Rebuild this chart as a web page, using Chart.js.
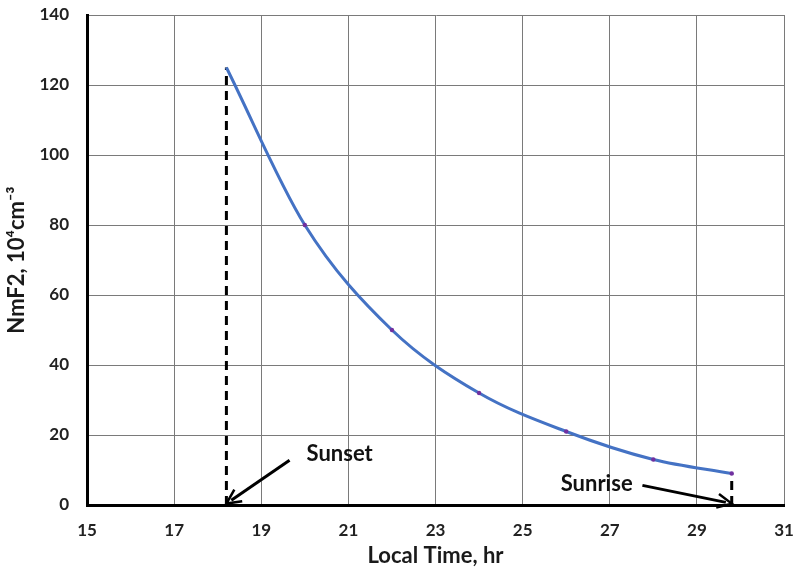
<!DOCTYPE html>
<html>
<head>
<meta charset="utf-8">
<script src="https://cdn.jsdelivr.net/npm/chart.js@4/dist/chart.umd.min.js"></script>
<style>
  html, body { margin: 0; padding: 0; background: #fff; }
  #wrap { width: 793px; height: 573px; }
</style>
</head>
<body>
<div id="wrap"><canvas id="nmf2Chart"></canvas></div>
<script>
// local time (hr) and NmF2 (10^4 cm^-3)
const localTime = [18.2, 20, 22, 24, 26, 28, 29.8];
const nmf2 = [125, 80, 50, 32, 21, 13, 9];
const xTicks = [15, 17, 19, 21, 23, 25, 27, 29, 31];
const yTicks = [0, 20, 40, 60, 80, 100, 120, 140];

// dashed markers at sunset / sunrise
const sunsetX = 18.2, sunsetTop = 125;
const sunriseX = 29.8, sunriseTop = 9;

// annotation labels and arrows
const notes = [
    { text: 'Sunset', tx: 20.8, ty: 14.5, fx: 19.65, fy: 12.8, ex: 18.2, ey: 0.4 },
    { text: 'Sunrise', tx: 26.7, ty: 6.1, fx: 27.75, fy: 5.6, ex: 29.8, ey: 0.4 }
];

const FONT = 'Lato, "Open Sans", sans-serif';

const notePlugin = {
    id: 'notes',
    afterDatasetsDraw(chart) {
        const ctx = chart.ctx;
        const xs = chart.scales.x, ys = chart.scales.y;
        ctx.save();
        notes.forEach(n => {
            const x1 = xs.getPixelForValue(n.fx), y1 = ys.getPixelForValue(n.fy);
            const x2 = xs.getPixelForValue(n.ex), y2 = ys.getPixelForValue(n.ey);
            const ang = Math.atan2(y2 - y1, x2 - x1);
            ctx.strokeStyle = '#000';
            ctx.lineWidth = 3;
            ctx.beginPath();
            ctx.moveTo(x1, y1);
            ctx.lineTo(x2 - 6 * Math.cos(ang), y2 - 6 * Math.sin(ang));
            ctx.stroke();
            // arrow head
            ctx.lineWidth = 2.5;
            ctx.beginPath();
            ctx.moveTo(x2 - 16 * Math.cos(ang - 0.45), y2 - 16 * Math.sin(ang - 0.45));
            ctx.lineTo(x2, y2);
            ctx.lineTo(x2 - 16 * Math.cos(ang + 0.45), y2 - 16 * Math.sin(ang + 0.45));
            ctx.stroke();

            ctx.fillStyle = '#111';
            ctx.font = 'bold 22px ' + FONT;
            ctx.textAlign = 'center';
            ctx.textBaseline = 'middle';
            ctx.fillText(n.text, xs.getPixelForValue(n.tx), ys.getPixelForValue(n.ty));
        });
        ctx.restore();
    }
};

const ctx = document.getElementById('nmf2Chart').getContext('2d');
const chart = new Chart(ctx, {
    type: 'line',
    data: {
        datasets: [
            {
                label: 'NmF2',
                data: localTime.map((t, i) => ({ x: t, y: nmf2[i] })),
                borderColor: '#4472C4',
                borderWidth: 3,
                cubicInterpolationMode: 'monotone',
                pointRadius: localTime.map((t, i) => i === 0 ? 0 : 2.2),
                pointBackgroundColor: '#7030A0',
                pointBorderWidth: 0
            },
            {
                label: 'sunset',
                data: [{ x: sunsetX, y: 0 }, { x: sunsetX, y: sunsetTop }],
                borderColor: '#000',
                borderWidth: 3,
                borderDash: [9, 6],
                pointRadius: 0
            },
            {
                label: 'sunrise',
                data: [{ x: sunriseX, y: 0 }, { x: sunriseX, y: sunriseTop }],
                borderColor: '#000',
                borderWidth: 3,
                borderDash: [9, 6],
                pointRadius: 0
            }
        ]
    },
    options: {
        responsive: true,
        maintainAspectRatio: false,
        animation: false,
        layout: { padding: { top: 15, right: 9, left: 0, bottom: 0 } },
        plugins: {
            legend: { display: false },
            tooltip: { enabled: false }
        },
        scales: {
            x: {
                type: 'linear',
                min: 15,
                max: 31,
                afterBuildTicks: s => { s.ticks = xTicks.map(v => ({ value: v })); },
                afterFit: s => { s.height = 68; s.paddingLeft = 0; s.paddingRight = 0; },
                grid: { color: '#7a7a7a', lineWidth: 1, drawTicks: false },
                border: { color: '#000', width: 3 },
                ticks: { color: '#222', padding: 15, font: { family: FONT, size: 17, weight: 'bold' } },
                title: {
                    display: true,
                    text: 'Local Time, hr',
                    color: '#1a1a1a',
                    padding: { top: 3 },
                    font: { family: FONT, size: 22, weight: 'bold' }
                }
            },
            y: {
                min: 0,
                max: 140,
                afterBuildTicks: s => { s.ticks = yTicks.map(v => ({ value: v })); },
                afterFit: s => { s.width = 87; s.paddingTop = 0; s.paddingBottom = 0; },
                grid: { color: '#7a7a7a', lineWidth: 1, drawTicks: false },
                border: { color: '#000', width: 3 },
                ticks: { color: '#222', padding: 18, font: { family: FONT, size: 17, weight: 'bold' } },
                title: {
                    display: true,
                    text: 'NmF2, 10⁴cm⁻³',
                    color: '#1a1a1a',
                    padding: { bottom: 2 },
                    font: { family: FONT, size: 22, weight: 'bold' }
                }
            }
        }
    },
    plugins: [notePlugin]
});
</script>
</body>
</html>
